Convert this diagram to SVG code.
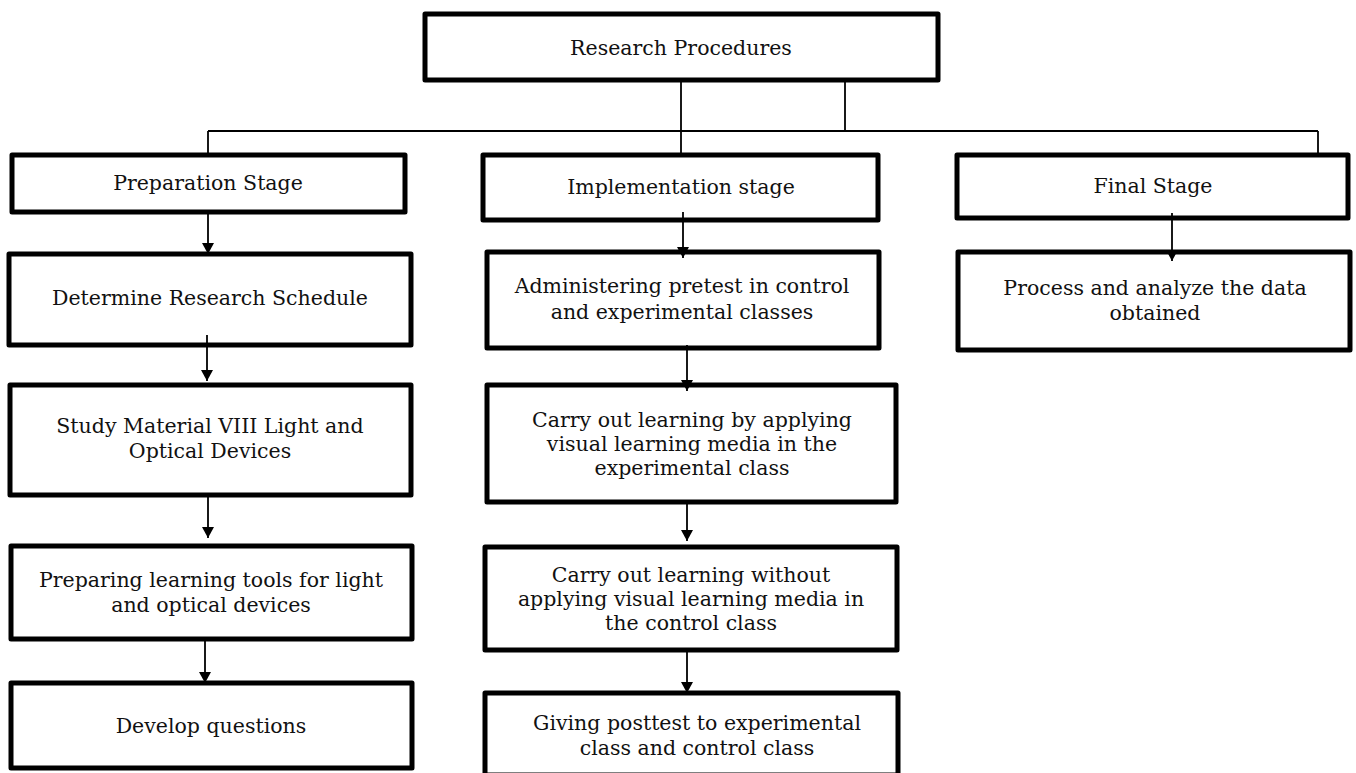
<svg xmlns="http://www.w3.org/2000/svg" width="1356" height="773" viewBox="0 0 1356 773">
<style>
.box{fill:#fff;stroke:#000;stroke-width:5;stroke-linejoin:round}
.t{font-family:"DejaVu Serif","Liberation Serif",serif;font-size:20.5px;fill:#111;text-anchor:middle}
.c{fill:none;stroke:#000;stroke-width:1.8}
</style>
<defs>
<marker id="ah" viewBox="0 0 11 12" refX="11" refY="6" markerWidth="11" markerHeight="12" markerUnits="userSpaceOnUse" orient="auto">
<path d="M0,0 L11,6 L0,12 Z" fill="#000"/>
</marker>
</defs>
<g id="research-procedures"><rect class="box" x="425" y="14" width="513" height="66"/><text class="t" x="681" y="55">Research Procedures</text></g>
<g id="preparation-stage"><rect class="box" x="12" y="155" width="393" height="57"/><text class="t" x="208" y="190">Preparation Stage</text></g>
<g id="implementation-stage"><rect class="box" x="483" y="155" width="395" height="65"/><text class="t" x="681" y="194">Implementation stage</text></g>
<g id="final-stage"><rect class="box" x="957" y="155" width="391" height="63"/><text class="t" x="1153" y="193">Final Stage</text></g>
<g id="determine-schedule"><rect class="box" x="9" y="254" width="402" height="91"/><text class="t" x="210" y="305">Determine Research Schedule</text></g>
<g id="study-material"><rect class="box" x="10" y="385" width="401" height="110"/><text class="t" x="210" y="433">Study Material VIII Light and</text><text class="t" x="210" y="458">Optical Devices</text></g>
<g id="preparing-tools"><rect class="box" x="11" y="546" width="401" height="93"/><text class="t" x="211" y="587">Preparing learning tools for light</text><text class="t" x="211" y="612">and optical devices</text></g>
<g id="develop-questions"><rect class="box" x="11" y="683" width="401" height="85"/><text class="t" x="211" y="733">Develop questions</text></g>
<g id="administering-pretest"><rect class="box" x="487" y="252" width="392" height="96"/><text class="t" x="682" y="293">Administering pretest in control</text><text class="t" x="682" y="319">and experimental classes</text></g>
<g id="carry-out-experimental"><rect class="box" x="487" y="385" width="409" height="117"/><text class="t" x="692" y="427">Carry out learning by applying</text><text class="t" x="692" y="451">visual learning media in the</text><text class="t" x="692" y="475">experimental class</text></g>
<g id="carry-out-control"><rect class="box" x="485" y="547" width="412" height="103"/><text class="t" x="691" y="582">Carry out learning without</text><text class="t" x="691" y="606">applying visual learning media in</text><text class="t" x="691" y="630">the control class</text></g>
<g id="giving-posttest"><rect class="box" x="485" y="693" width="413" height="82"/><text class="t" x="697" y="730">Giving posttest to experimental</text><text class="t" x="697" y="755">class and control class</text></g>
<g id="process-analyze"><rect class="box" x="958" y="252" width="392" height="98"/><text class="t" x="1155" y="295">Process and analyze the data</text><text class="t" x="1155" y="320">obtained</text></g>
<g id="connectors">
<path class="c" d="M681,82 V153"/>
<path class="c" d="M845,82 V131"/>
<path class="c" d="M208,131 H1318"/>
<path class="c" d="M208,131 V153"/>
<path class="c" d="M1318,131 V153"/>
<path class="c" d="M208,212 V254" marker-end="url(#ah)"/>
<path class="c" d="M207,335 V381" marker-end="url(#ah)"/>
<path class="c" d="M208,493 V538" marker-end="url(#ah)"/>
<path class="c" d="M205,639 V683" marker-end="url(#ah)"/>
<path class="c" d="M683,212 V258" marker-end="url(#ah)"/>
<path class="c" d="M687,345 V391" marker-end="url(#ah)"/>
<path class="c" d="M687,502 V541" marker-end="url(#ah)"/>
<path class="c" d="M687,648 V693" marker-end="url(#ah)"/>
<path class="c" d="M1172,213 V261" marker-end="url(#ah)"/>
</g>
</svg>
